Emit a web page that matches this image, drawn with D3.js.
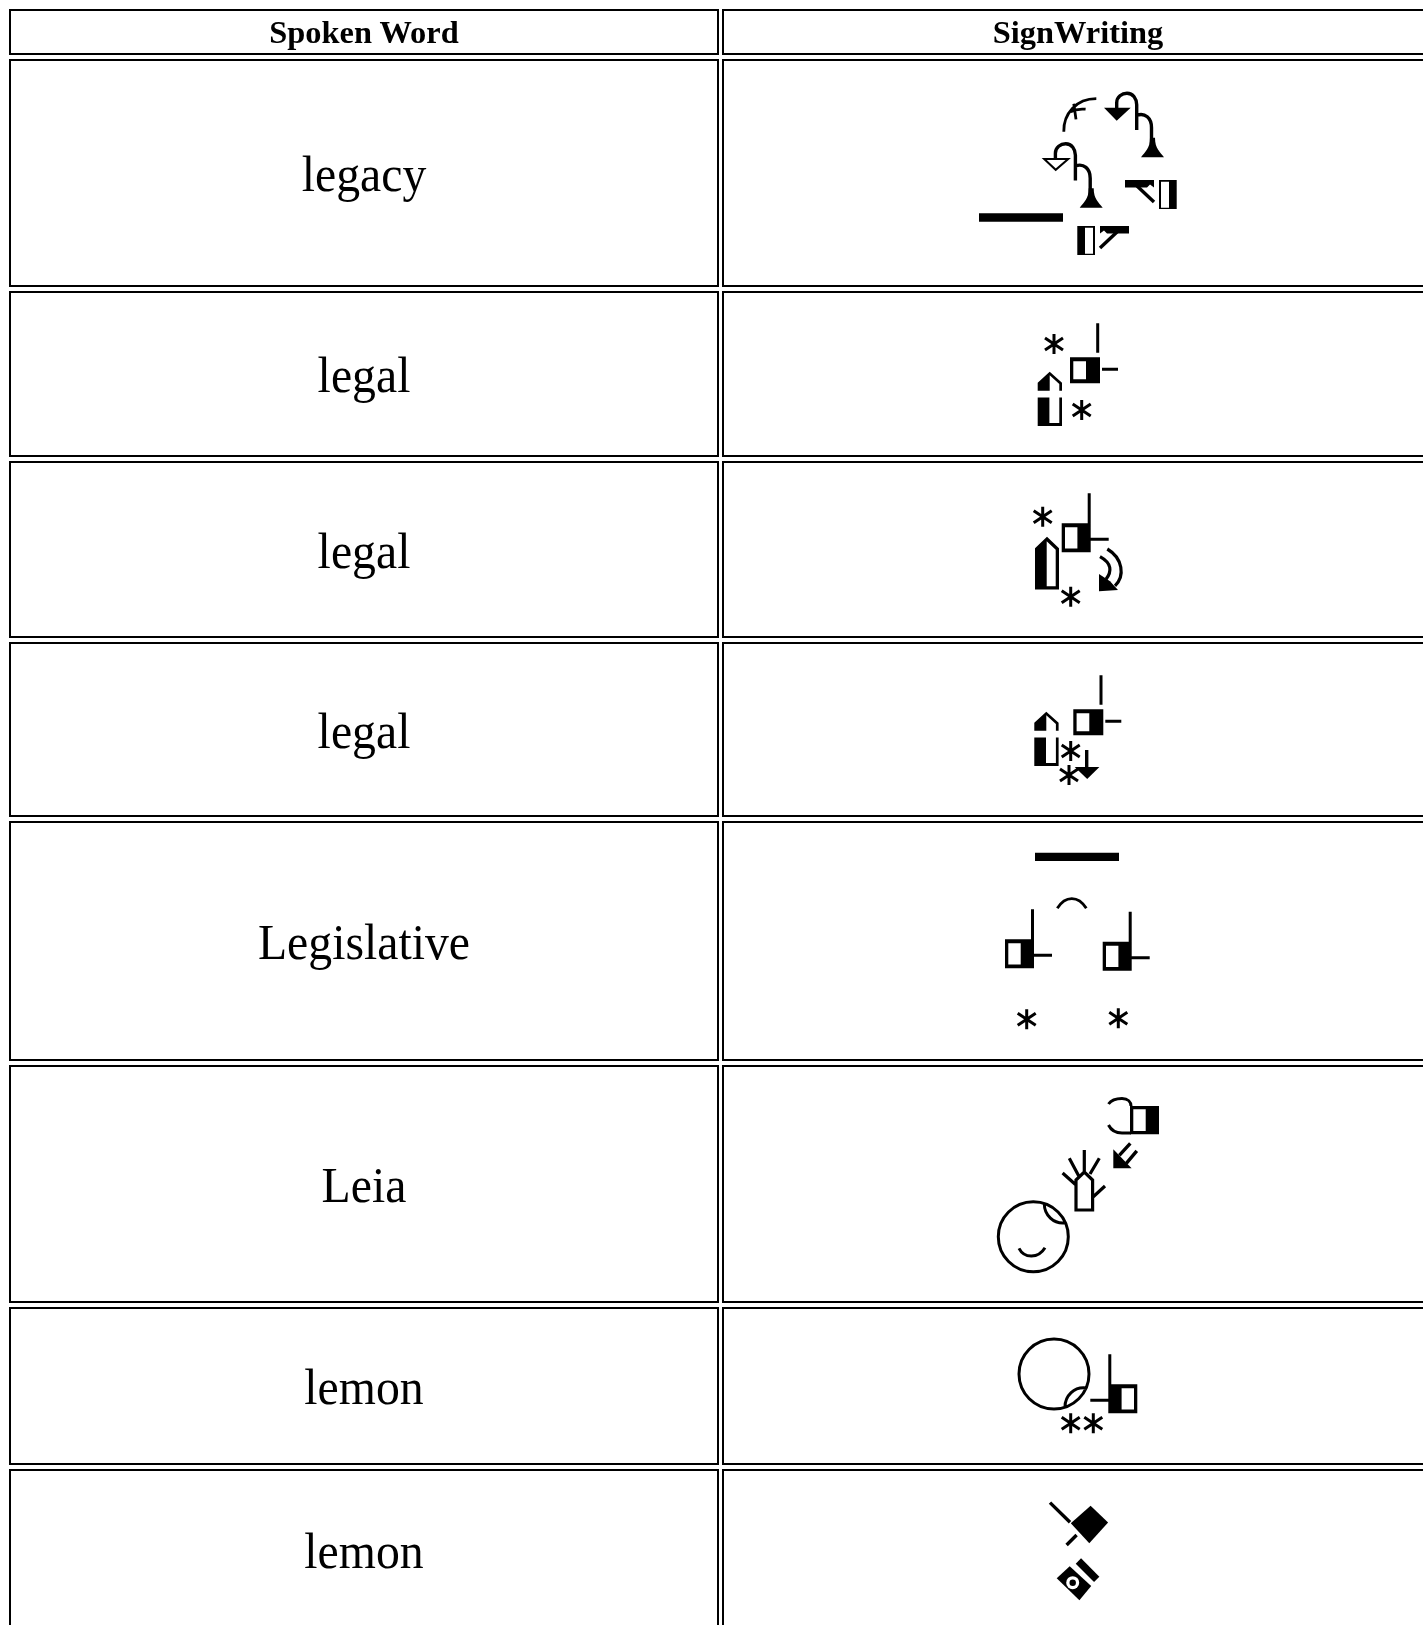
<!DOCTYPE html>
<html>
<head>
<meta charset="utf-8">
<script src="https://cdn.jsdelivr.net/npm/d3@7"></script>
<style>
  html, body { margin: 0; padding: 0; background: #fff; overflow: hidden; }
  svg { display: block; }
</style>
</head>
<body>
<script>
let headers = ["Spoken Word", "SignWriting"];
let words = ["legacy", "legal", "legal", "legal", "Legislative", "Leia", "lemon", "lemon"];

// outer edges of the cells
let rowTops = [9, 59, 291, 461, 642, 821, 1065, 1307, 1469];
let rowBottoms = [55, 287, 457, 638, 817, 1061, 1303, 1465, 1631];
let colLefts = [9, 722];
let colRights = [719, 1434];

let width = 1423;
let height = 1625;

let box = (x, y, w, h) => `M${x},${y}h${w}v${h}h${-w}Z`;
let hookLine = "M12.7,1V-5C12.7,-11 18,-14.5 23,-14.5C29,-14.5 32.7,-9 32.7,-3V22.3M33,7.5C41,5 47.5,10 47.5,20V36";
let bell = "M46,30C46,41 41,44 37,49.5H60C56,44 51,41 51,30Z";

// sign symbols, drawn around their own origin
let symbols = {
  star: { fill: "M-2.6,0a2.6,2.6 0 1,0 5.2,0a2.6,2.6 0 1,0 -5.2,0Z", line: "M0,-10V10M-9,-6L9,6M9,-6L-9,6", w: 3 },
  bar: { fill: box(0, 0, 84, 8.4) },
  handJoined: {
    fill: box(0, 0, 29, 29) + box(3.3, 4, 12.4, 21.3) + box(26, -30, 3, 30) + box(29, 14.5, 18, 3)
  },
  handGap: {
    fill: box(0, 0, 30, 26) + box(3.3, 4, 12.7, 18) + box(26.2, -34, 3, 29.5) + box(32, 10.5, 16, 3)
  },
  house: {
    fill: "M0,11L12,0L24.3,11V19H21.6V12.3L12,3.6V19H0Z" + "M0,25.7H11.7V51.3H21.6V25.7H24.3V54.3H0Z"
  },
  tallHouse: {
    fill: "M0,11.5L12,0L24,11.5V52.7H0Z" + "M11.7,4.5V49.5H20.7V13Z"
  },
  curl: {
    fill: "M0,25.7V43L19,41.7L11,33Z",
    line: "M8.3,0.7C24,10 26,28 16,37.5M1,8.3C13,15 13,23 7,31",
    w: 3.2
  },
  downArrow: { fill: "M-12,17H12.7L0.5,29Z", line: "M0,0V20", w: 3.4 },
  hookFilled: {
    fill: "M0,0H26.7L12.7,13Z" + bell,
    line: hookLine,
    w: 3.4
  },
  hookHollow: {
    fill: bell,
    line: hookLine,
    thin: "M1.5,0.8H25.5L13,11.5Z",
    w: 3.4
  },
  branch: {
    line: "M0.5,0C0,-18 13,-33 33,-33M7.3,-20C11,-22 17,-23 22.3,-22.5M10.5,-28L12.7,-12.3",
    w: 2.8
  },
  wedgeHand: {
    fill: "M0,0H29V7.5L25,4.5L22,7.5H0Z" + box(34, 0, 17.7, 29) + box(36, 1.7, 8, 26),
    line: "M12,6L29,22",
    w: 3.4
  },
  arc: { line: "M0,0C8,-13 21,-13 29,0", w: 2.8 },
  grip: {
    fill: box(0, 0, 29, 28.3) + box(3.3, 3.3, 12.4, 21.7),
    line: "M-21.5,-2C-18,-7 -12,-7.5 -8,-7.5C-2,-7.5 1,-4 1,0M-21.5,19C-18,26 -13,27 -8,27H1",
    w: 3
  },
  diagArrow: {
    fill: "M0,-19V0H18.3Z",
    line: "M6,-13L17,-25M13,-5L23.5,-17.5",
    w: 3.4
  },
  fingers: {
    line: "M-8.3,0H8.3V-30L0,-38L-8.3,-30ZM0,-60V-38M-15,-51.7L-5,-33M15,-51.7L5.7,-36M-21.7,-37L-8.3,-25M9,-13.3L20.7,-24",
    w: 3.2
  },
  face: {
    line: "M-35,0A35,35 0 1,1 35,0A35,35 0 1,1 -35,0M11,-33C11,-22 20,-12 33,-14",
    w: 3
  },
  smile: { line: "M-14.3,11.7C-9,22 5,22 11.7,11", w: 3 },
  diamond: {
    fill: "M1.3,-18.5L18.8,-1.7L0,19L-18.5,-1Z",
    line: "M-39.3,-21.7L-19.3,-2M-22.7,20.7L-12.7,10.7",
    w: 3.4
  },
  eyeBox: {
    fill: "M-16,-4.5L-3,-16.5L18.5,3.3L6.7,17.5Z",
    line: "M5.7,-21.7L24,-3.3",
    w: 7.5,
    ring: true
  }
};

// which symbols make up each sign: [symbol, x from cell centre, y from cell top, flipX, flipY]
let signs = [
  [["branch", -14.7, 72.7], ["hookFilled", 26, 48.7], ["hookHollow", -35.3, 99.3], ["bar", -99, 154.3],
   ["wedgeHand", 47, 121], ["wedgeHand", 51, 167, -1]],
  [["star", -24, 53], ["handGap", -8, 66.3], ["house", -40.3, 80.7], ["star", 3.7, 119]],
  [["star", -35.3, 55.7], ["handJoined", -16.3, 62.3], ["tallHouse", -43, 75.7], ["star", -7.3, 135.7], ["curl", 21, 87.3]],
  [["handGap", -4.7, 67.3], ["house", -43.7, 69.7], ["star", -7.3, 109], ["star", -9, 133], ["downArrow", 8.7, 108]],
  [["bar", -43, 31.7], ["arc", -20.7, 87.3], ["handJoined", -73, 118.3], ["handJoined", 24.7, 120.7],
   ["star", -51.3, 198.3], ["star", 40.3, 197.3]],
  [["grip", 52, 41], ["diagArrow", 35.3, 103.3], ["fingers", 6.3, 145], ["face", -44.7, 171.7], ["smile", -44.7, 171.7]],
  [["face", -24, 67, 1, -1], ["handJoined", 59.3, 77.3, -1], ["star", -7.3, 116.3], ["star", 15.3, 116.3]],
  [["diamond", 11.3, 55.3], ["eyeBox", -5.3, 113.7]]
];

let svg = d3.select("body").append("svg").attr("width", width).attr("height", height);

svg.append("rect").attr("width", width).attr("height", height).attr("fill", "#fff");

let defs = svg.append("defs");
defs.append("filter").attr("id", "soft").append("feGaussianBlur").attr("stdDeviation", 0.55);
defs.append("filter").attr("id", "softText").append("feGaussianBlur").attr("stdDeviation", 0.3);

let colCenter = i => (colLefts[i] + colRights[i]) / 2;
let rowCenter = i => (rowTops[i] + rowBottoms[i]) / 2;

// cell borders
let cells = d3.cross(d3.range(rowTops.length), d3.range(colLefts.length));
svg.selectAll("rect.cell")
  .data(cells)
  .join("rect")
  .attr("class", "cell")
  .attr("x", d => colLefts[d[1]] + 1)
  .attr("y", d => rowTops[d[0]] + 1)
  .attr("width", d => colRights[d[1]] - colLefts[d[1]] - 2)
  .attr("height", d => rowBottoms[d[0]] - rowTops[d[0]] - 2)
  .attr("fill", "none")
  .attr("stroke", "#000")
  .attr("stroke-width", 2);

svg.selectAll("text.head")
  .data(headers)
  .join("text")
  .attr("class", "head")
  .attr("x", (d, i) => colCenter(i))
  .attr("y", 43)
  .attr("text-anchor", "middle")
  .attr("font-family", "'Liberation Serif', serif")
  .attr("font-weight", "bold")
  .attr("font-size", 32.4)
  .attr("fill", "#000")
  .attr("filter", "url(#softText)")
  .text(d => d);

// the body type in the reference is a bit narrowed
svg.selectAll("text.word")
  .data(words)
  .join("text")
  .attr("class", "word")
  .attr("transform", (d, i) => `translate(${colCenter(0)},${rowCenter(i + 1) + 18}) scale(0.955,1)`)
  .attr("text-anchor", "middle")
  .attr("font-family", "'Liberation Serif', serif")
  .attr("font-size", 50)
  .attr("fill", "#000")
  .attr("filter", "url(#softText)")
  .text(d => d);

// signs in the right column
let signRows = svg.selectAll("g.sign")
  .data(signs)
  .join("g")
  .attr("class", "sign")
  .attr("filter", "url(#soft)")
  .attr("transform", (d, i) => `translate(${colCenter(1)},${rowTops[i + 1]})`);

let parts = signRows.selectAll("g.part")
  .data(d => d)
  .join("g")
  .attr("class", "part")
  .attr("transform", d => `translate(${d[1]},${d[2]}) scale(${d[3] || 1},${d[4] || 1})`);

parts.each(function (d) {
  let s = symbols[d[0]];
  let g = d3.select(this);
  if (s.fill) {
    g.append("path").attr("d", s.fill).attr("fill", "#000").attr("fill-rule", "evenodd");
  }
  if (s.line) {
    g.append("path").attr("d", s.line).attr("fill", "none").attr("stroke", "#000").attr("stroke-width", s.w);
  }
  if (s.thin) {
    g.append("path").attr("d", s.thin).attr("fill", "#fff").attr("stroke", "#000").attr("stroke-width", 2);
  }
  if (s.ring) {
    g.append("circle").attr("r", 6.5).attr("fill", "#fff");
    g.append("circle").attr("r", 3.2).attr("fill", "#000");
  }
});
</script>
</body>
</html>
